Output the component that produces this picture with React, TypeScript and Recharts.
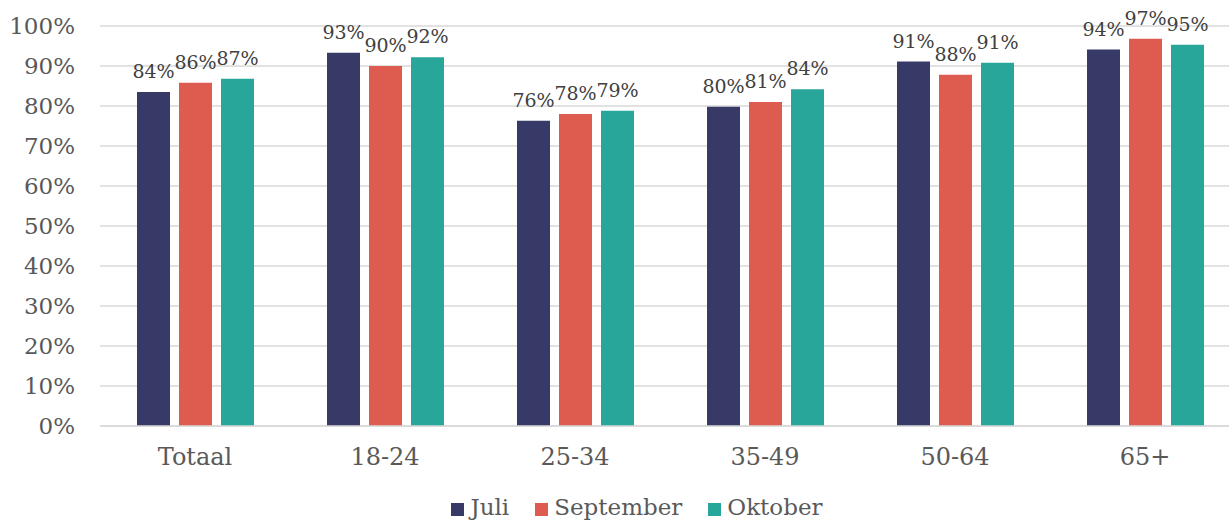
import { Bar, BarChart, CartesianGrid, LabelList, Legend, XAxis, YAxis } from 'recharts';

const categories = ["Totaal", "18-24", "25-34", "35-49", "50-64", "65+"]
const juli = [83.5, 93.3, 76.3, 79.8, 91.1, 94.1]
const september = [85.8, 90.0, 78.0, 81.0, 87.8, 96.8]
const oktober = [86.8, 92.2, 78.8, 84.2, 90.8, 95.3]
const yTicks = [0, 10, 20, 30, 40, 50, 60, 70, 80, 90, 100]
const series = ["Juli", "September", "Oktober"]

const COLORS = ["#373a66", "#dd5b4f", "#29a69a"]
const FONT = "'DejaVu Serif', serif"

const data = categories.map((name, i) => ({
    name,
    Juli: juli[i],
    September: september[i],
    Oktober: oktober[i],
}))

const pct = (v: any) => `${Math.round(Number(v))}%`

const renderLegend = () => (
    <div style={{ display: 'flex', justifyContent: 'center', alignItems: 'center', paddingLeft: 34, paddingTop: 2, lineHeight: '26px', fontFamily: FONT, fontSize: 23, color: '#595959' }}>
        {series.map((s, i) => (
            <div key={s} style={{ display: 'flex', alignItems: 'center', marginRight: i < series.length - 1 ? 26 : 0 }}>
                <span style={{ display: 'inline-block', width: 13, height: 13, background: COLORS[i], marginRight: 6, marginTop: 4 }} />
                <span>{s}</span>
            </div>
        ))}
    </div>
)

export default function App() {
    return (
        <div style={{ width: 1229, height: 522, overflow: 'hidden', position: 'absolute', left: 0, top: 0, background: '#fff' }}>
            <BarChart
                width={1245}
                height={522}
                data={data}
                margin={{ top: 26, right: 5, left: 0, bottom: 0 }}
                barSize={33}
                barGap={9}
                style={{ fontFamily: FONT }}
            >
                <CartesianGrid vertical={false} stroke="#d9d9d9" strokeWidth={1.5} />
                <XAxis
                    dataKey="name"
                    axisLine={{ stroke: '#d9d9d9', strokeWidth: 1.5 }}
                    tickLine={false}
                    tick={{ fill: '#595959', fontSize: 24, fontFamily: FONT }}
                    tickMargin={16}
                    height={66}
                />
                <YAxis
                    domain={[0, 100]}
                    ticks={yTicks}
                    tickFormatter={(v) => `${v}%`}
                    axisLine={false}
                    tickLine={false}
                    tick={{ fill: '#595959', fontSize: 23, fontFamily: FONT }}
                    tickMargin={19}
                    width={100}
                    interval={0}
                />
                <Legend verticalAlign="bottom" height={30} content={renderLegend} />
                {series.map((s, i) => (
                    <Bar key={s} dataKey={s} fill={COLORS[i]} isAnimationActive={false}>
                        <LabelList
                            dataKey={s}
                            position="top"
                            offset={14}
                            formatter={pct}
                            style={{ fill: '#404040', fontSize: 19, fontFamily: FONT }}
                        />
                    </Bar>
                ))}
            </BarChart>
        </div>
    )
}
